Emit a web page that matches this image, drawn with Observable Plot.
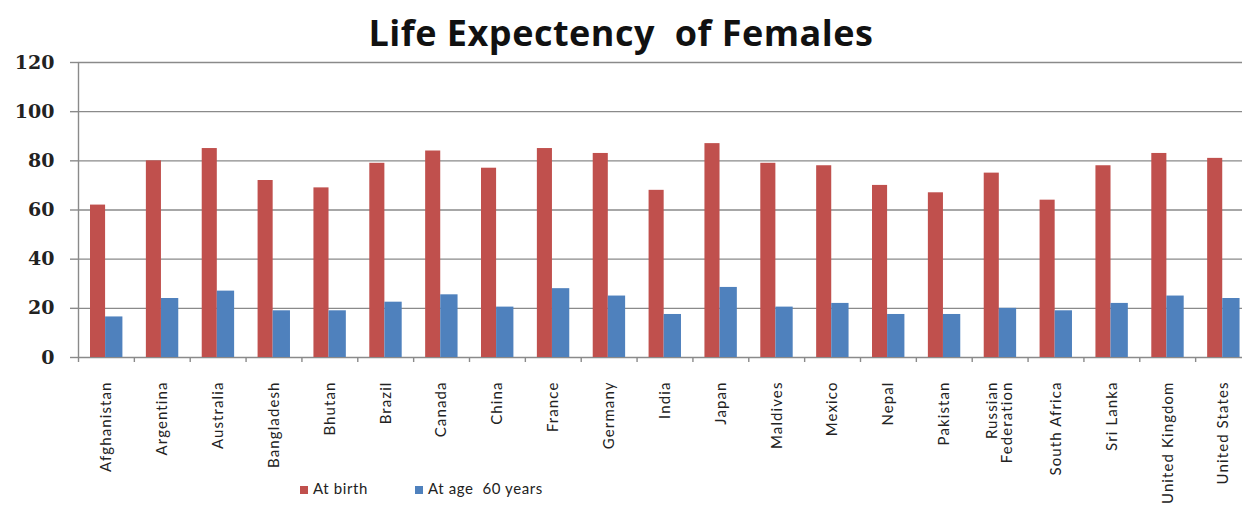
<!DOCTYPE html>
<html>
<head>
<meta charset="utf-8">
<script src="https://cdn.jsdelivr.net/npm/d3@7"></script>
<script src="https://cdn.jsdelivr.net/npm/@observablehq/plot@0.6"></script>
<style>
  html, body { margin: 0; padding: 0; background: #fff; }
  #wrap { position: relative; width: 1242px; height: 506px; overflow: hidden; }
  #title { height: 48px; box-sizing: border-box; padding-top: 16px; line-height: 34px; text-align: center;
           font-family: "Open Sans", sans-serif; font-weight: 700; font-size: 36px; letter-spacing: 0.5px;
           color: #111; white-space: pre; }
  #legend { position: absolute; left: 300px; top: 479px; font-family: Lato, sans-serif; font-size: 15px;
            color: #222; letter-spacing: 0.6px; white-space: nowrap; }
  .sw { display: inline-block; width: 8px; height: 8px; margin-right: 5px; vertical-align: 0px; }
</style>
</head>
<body>
<div id="wrap">
  <div id="title"></div>
  <div id="chart"></div>
  <div id="legend"></div>
</div>
<script>
const titleText = "Life Expectency  of Females";
const countries = ["Afghanistan","Argentina","Australia","Bangladesh","Bhutan","Brazil","Canada","China","France","Germany","India","Japan","Maldives","Mexico","Nepal","Pakistan","Russian Federation","South Africa","Sri Lanka","United Kingdom","United States"];
const atBirth = [62,80,85,72,69,79,84,77,85,83,68,87,79,78,70,67,75,64,78,83,81];
const atAge60 = [16.5,24,27,19,19,22.5,25.5,20.5,28,25,17.5,28.5,20.5,22,17.5,17.5,20,19,22,25,24];
const seriesNames = ["At birth", "At age  60 years"];
const seriesColors = ["#C0504D", "#4F81BD"];
const yTicks = [0,20,40,60,80,100,120];

document.getElementById("title").textContent = titleText;

const birthData = countries.map((c, i) => ({country: c, value: atBirth[i]}));
const age60Data = countries.map((c, i) => ({country: c, value: atAge60[i]}));

const W = 1242, mL = 78, mR = -9, mT = 14, mB = 149, H = 458;
const step = (W - mL - mR) / countries.length;
const grid = "#8a8a8a";

const chart = Plot.plot({
  width: W, height: H,
  marginLeft: mL, marginRight: mR, marginTop: mT, marginBottom: mB,
  style: {background: "white", color: "#111", overflow: "visible"},
  x: {domain: countries, paddingInner: 0, paddingOuter: 0, round: false, label: null, axis: null},
  y: {domain: [0, 120], label: null, axis: null},
  marks: [
    Plot.gridY(yTicks, {stroke: grid, strokeOpacity: 1, strokeWidth: 1.4}),
    Plot.axisY(yTicks, {tickSize: 8, tickPadding: 16, stroke: grid, strokeWidth: 1.4,
      fontFamily: "DejaVu Serif", fontWeight: "bold", fontSize: 19, fill: "#222", label: null}),
    Plot.ruleX(countries.slice(0, 1), {x: d => d, dx: -step / 2, stroke: grid, strokeWidth: 1.4}),
    Plot.axisX(countries, {tickSize: 5, dx: -step / 2, tickFormat: () => "", stroke: grid, strokeWidth: 1.4, label: null}),
    Plot.barY(birthData, {x: "country", y: "value", fill: seriesColors[0],
      insetLeft: step * 0.215, insetRight: step * 0.515}),
    Plot.barY(age60Data, {x: "country", y: "value", fill: seriesColors[1],
      insetLeft: step * 0.485, insetRight: step * 0.205}),
    Plot.axisX(countries, {tickSize: 0, tickPadding: 24, tickRotate: -90, label: null,
      tickFormat: d => d === "Russian Federation" ? "Russian\nFederation" : d,
      fontFamily: "Lato", fontSize: 15, fill: "#222"})
  ]
});
d3.select(chart).selectAll("g[aria-label='x-axis tick label'] text").attr("letter-spacing", "1.1px");
document.getElementById("chart").appendChild(chart);

const legend = document.getElementById("legend");
seriesNames.forEach((name, i) => {
  const item = document.createElement("span");
  item.style.marginRight = i === 0 ? "47px" : "0";
  item.innerHTML = `<span class="sw" style="background:${seriesColors[i]}"></span>`;
  item.appendChild(document.createTextNode(name));
  item.style.whiteSpace = "pre";
  legend.appendChild(item);
});
</script>
</body>
</html>
